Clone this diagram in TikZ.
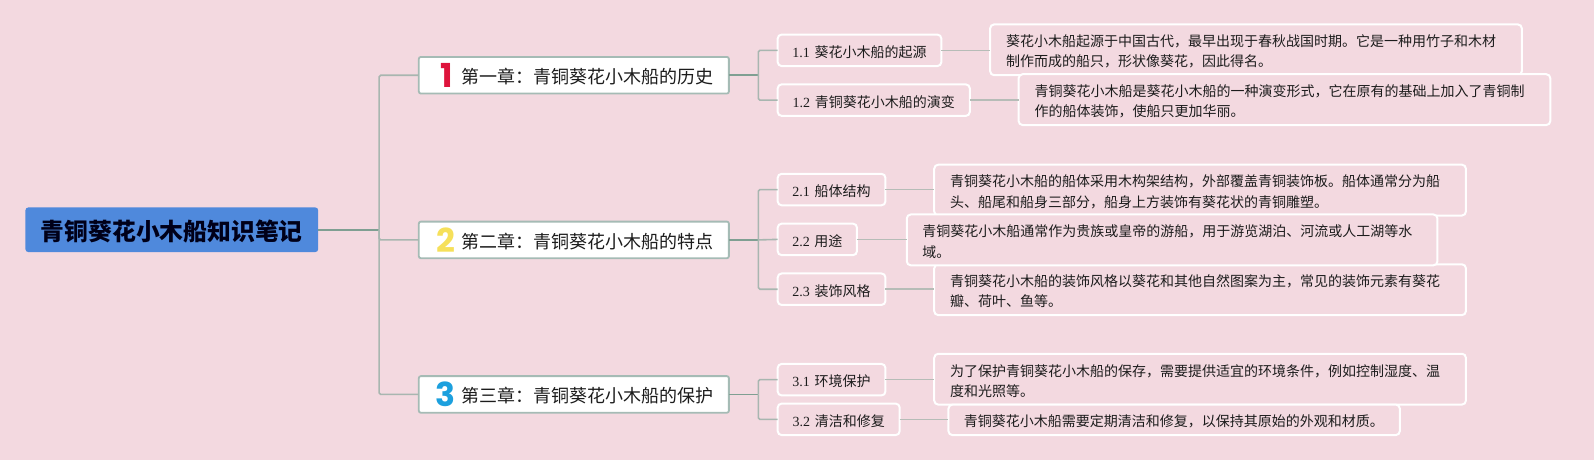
\documentclass[tikz,border=0pt]{standalone}
\usepackage{fontspec}
\setmainfont{Noto Sans CJK SC}
\newfontfamily\latf{Liberation Serif}
\newfontfamily\digf{Poppins}
\definecolor{bgc}{HTML}{F3D9E0}
\definecolor{rootc}{HTML}{4F89DC}
\definecolor{mainl}{HTML}{7F9F92}
\definecolor{subl}{HTML}{A8B6B0}
\definecolor{leafl}{HTML}{B6BCB7}
\definecolor{chb}{HTML}{A5BBB5}
\definecolor{txt}{HTML}{1C1C1C}
\tikzset{
  x=1.0166pt,y=-1.0166pt,
  boxn/.style={rectangle,outer sep=0pt,inner sep=0pt,text=txt},
  rootbox/.style={boxn,fill=rootc,rounded corners=3pt,align=center,font=\fontsize{23.8}{28}\selectfont\bfseries,text=black!90!blue},
  chapbox/.style={boxn,fill=white,draw=chb,line width=1.8pt,rounded corners=2pt,align=right,font=\fontsize{18}{22}\selectfont},
  subbox/.style={boxn,fill=bgc,draw=white,line width=2pt,rounded corners=4pt,align=center,font=\fontsize{14}{18}\selectfont},
  leafbox/.style={boxn,fill=bgc,draw=white,line width=2pt,rounded corners=4pt,align=left,font=\fontsize{14}{20.3}\selectfont},
  mainline/.style={draw=mainl,line width=1.6pt,rounded corners=1.5pt},
  subline/.style={draw=subl,line width=1.6pt,rounded corners=1.5pt},
  leafline/.style={draw=leafl,line width=1.6pt},
  digit/.style={inner sep=0pt,outer sep=0pt,font=\digf\fontsize{33}{33}\selectfont\bfseries}
}
% name, x1, y1, x2, y2, style, pad, text
\newcommand\bx[8]{%
  \pgfmathsetmacro\boxw{(#4-#2)*1.0166}%
  \pgfmathsetmacro\boxh{(#5-#3)*1.0166}%
  \pgfmathsetmacro\textw{\boxw-2*#7}%
  \node[#6,minimum width=\boxw pt,minimum height=\boxh pt,text width=\textw pt] (#1) at ({(#2+#4)/2},{(#3+#5)/2}) {\rule{0pt}{\dimexpr 0.84em+3.4pt\relax}#8};%
}
\begin{document}
\begin{tikzpicture}
\fill[bgc] (0,0) rectangle (1568,452.5);
\useasboundingbox (0,0) rectangle (1568,452.5);

\bx{root}{25}{204}{313}{248}{rootbox}{5}{青铜葵花小木船知识笔记}

\bx{ch1}{412}{56}{717}{92}{chapbox}{15}{第一章：青铜葵花小木船的历史}
\bx{ch2}{412}{218}{717}{254}{chapbox}{15}{第二章：青铜葵花小木船的特点}
\bx{ch3}{412}{370}{717}{406}{chapbox}{15}{第三章：青铜葵花小木船的保护}
\node[digit,text={rgb,255:red,222;green,20;blue,60}] (d1) at (439.5,74) {1};
\node[digit,text={rgb,255:red,246;green,224;blue,90}] (d2) at (438.5,236) {2};
\node[digit,text={rgb,255:red,28;green,160;blue,222}] (d3) at (438.5,388) {3};

\bx{s11}{765}{34}{926}{65}{subbox}{2}{{\latf 1.1} 葵花小木船的起源}
\bx{s12}{765}{83}{954}{114}{subbox}{2}{{\latf 1.2} 青铜葵花小木船的演变}
\bx{s21}{765}{171}{871}{202}{subbox}{2}{{\latf 2.1} 船体结构}
\bx{s22}{765}{220}{843}{251}{subbox}{2}{{\latf 2.2} 用途}
\bx{s23}{765}{269}{871}{300}{subbox}{2}{{\latf 2.3} 装饰风格}
\bx{s31}{765}{358}{871}{389}{subbox}{2}{{\latf 3.1} 环境保护}
\bx{s32}{765}{397}{885}{428}{subbox}{2}{{\latf 3.2} 清洁和修复}

\bx{c11}{974}{24}{1497}{74}{leafbox}{16}{葵花小木船起源于中国古代，最早出现于春秋战国时期。它是一种用竹子和木材\\制作而成的船只，形状像葵花，因此得名。}
\bx{c12}{1002}{73}{1525}{123}{leafbox}{16}{青铜葵花小木船是葵花小木船的一种演变形式，它在原有的基础上加入了青铜制\\作的船体装饰，使船只更加华丽。}
\bx{c21}{919}{162}{1442}{212}{leafbox}{16}{青铜葵花小木船的船体采用木构架结构，外部覆盖青铜装饰板。船体通常分为船\\头、船尾和船身三部分，船身上方装饰有葵花状的青铜雕塑。}
\bx{c23}{919}{260}{1442}{310}{leafbox}{16}{青铜葵花小木船的装饰风格以葵花和其他自然图案为主，常见的装饰元素有葵花\\瓣、荷叶、鱼等。}
\bx{c22}{892}{211}{1414}{261}{leafbox}{15.5}{青铜葵花小木船通常作为贵族或皇帝的游船，用于游览湖泊、河流或人工湖等水\\域。}
\bx{c31}{919}{348}{1442}{398}{leafbox}{16}{为了保护青铜葵花小木船的保存，需要提供适宜的环境条件，例如控制湿度、温\\度和光照等。}
\bx{c32}{933}{398}{1377}{428}{leafbox}{15.5}{青铜葵花小木船需要定期清洁和修复，以保持其原始的外观和材质。}

\coordinate (tr) at (373,226);
\draw[mainline] (root.east) -- (tr);
\draw[subline] (tr) |- (ch1.west);
\draw[subline] (tr) |- (ch2.west);
\draw[subline] (tr) |- (ch3.west);

\coordinate (j1) at (746,74);
\coordinate (j2) at (746,236);
\coordinate (j3) at (746,388);
\draw[mainline] (ch1.east) -- (j1);
\draw[mainline] (ch2.east) -- (j2);
\draw[mainline] (ch3.east) -- (j3);
\draw[subline] (j1) |- (s11.west);
\draw[subline] (j1) |- (s12.west);
\draw[subline] (j2) |- (s21.west);
\draw[subline] (j2) -- (s22.west);
\draw[subline] (j2) |- (s23.west);
\draw[subline] (j3) |- (s31.west);
\draw[subline] (j3) |- (s32.west);

\draw[leafline] (s11.east) -- (s11.east -| c11.west);
\draw[leafline] (s12.east) -- (s12.east -| c12.west);
\draw[leafline] (s21.east) -- (s21.east -| c21.west);
\draw[leafline] (s22.east) -- (s22.east -| c22.west);
\draw[leafline] (s23.east) -- (s23.east -| c23.west);
\draw[leafline] (s31.east) -- (s31.east -| c31.west);
\draw[leafline] (s32.east) -- (s32.east -| c32.west);
\end{tikzpicture}
\end{document}
